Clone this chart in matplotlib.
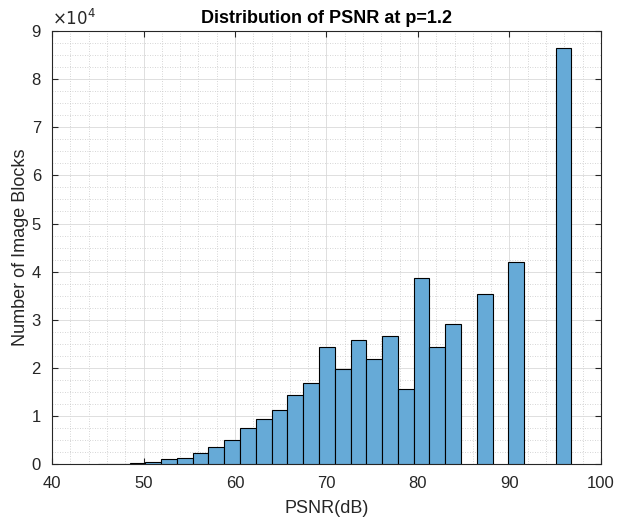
import numpy as np
import matplotlib
matplotlib.use("Agg")
import matplotlib.pyplot as plt
from matplotlib.ticker import MultipleLocator, FuncFormatter

# Histogram data
bin_start = 43.3      # dB, left edge of first bin
bin_width = 1.725     # dB
counts = [0, 20, 60, 200, 500, 970, 1300, 2350, 3600, 4900, 7400, 9300,
          11200, 14400, 16900, 24400, 19750, 25850, 21800, 26700, 15600,
          38700, 24400, 29200, 0, 35300, 0, 42100, 0, 0, 86400]

title = "Distribution of PSNR at p=1.2"
xlabel = "PSNR(dB)"
ylabel = "Number of Image Blocks"
xticks = [40, 50, 60, 70, 80, 90, 100]
yticks = [0, 1, 2, 3, 4, 5, 6, 7, 8, 9]  # x 10^4

plt.rcParams['font.family'] = ['Liberation Sans', 'DejaVu Sans']

fig = plt.figure(figsize=(6.17, 5.19), dpi=100)
ax = fig.add_axes([0.0843, 0.106, 0.8897, 0.834])

edges = bin_start + bin_width * np.arange(len(counts) + 1)
face = (0.4, 0.668, 0.845)
nz = [i for i, c in enumerate(counts) if c > 0]
ax.bar(edges[:-1][nz], np.array(counts)[nz], width=bin_width, align='edge',
       color=face, edgecolor='black', linewidth=0.8, zorder=3)

ax.set_xlim(40, 100)
ax.set_ylim(0, 90000)
ax.set_xticks(xticks)
ax.set_yticks([v * 1e4 for v in yticks])
ax.yaxis.set_major_formatter(FuncFormatter(lambda v, p: f"{v/1e4:g}"))
ax.xaxis.set_minor_locator(MultipleLocator(2))
ax.yaxis.set_minor_locator(MultipleLocator(2500))

ax.grid(True, which='major', color='#d9d9d9', linewidth=0.6, zorder=0)
ax.grid(True, which='minor', color='#c8c8c8', linestyle=(0, (1, 2)),
        linewidth=0.6, zorder=0)
ax.set_axisbelow(True)

ax.tick_params(which='both', direction='in', top=True, right=True,
               labelsize=12, colors='#262626')
ax.tick_params(which='major', length=4, width=0.8)
ax.tick_params(axis='x', which='major', pad=9)
ax.tick_params(axis='y', which='major', pad=8)
ax.tick_params(which='minor', length=0)
for s in ax.spines.values():
    s.set_color('#262626')
    s.set_linewidth(0.8)

ax.set_xlabel(xlabel, fontsize=13, color='#262626', labelpad=6)
ax.set_ylabel(ylabel, fontsize=13, color='#262626', labelpad=2)
ax.set_title(title, fontsize=13, fontweight='bold', color='black', pad=6)
ax.text(0.0, 1.008, r"$\times10^{4}$", transform=ax.transAxes,
        fontsize=12, color='#262626', ha='left', va='bottom')

fig.savefig("out.png", dpi=100)
